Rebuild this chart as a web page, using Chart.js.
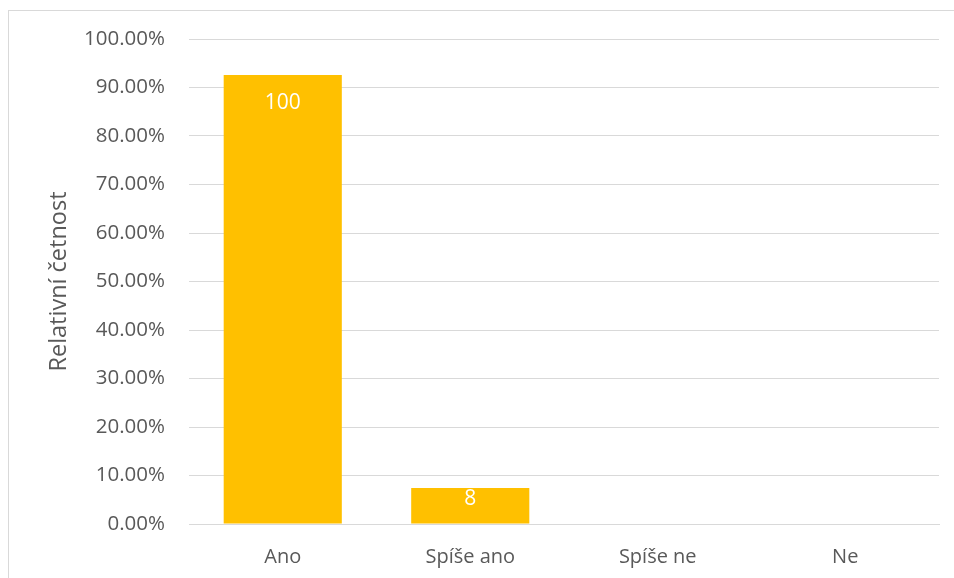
<!DOCTYPE html>
<html>
<head>
<meta charset="utf-8">
<script src="https://cdn.jsdelivr.net/npm/chart.js@4.4.1/dist/chart.umd.min.js"></script>
<style>
  html, body { margin: 0; padding: 0; background: #ffffff; overflow: hidden; }
  #frame { position: absolute; left: 8px; top: 10px; width: 980px; height: 600px; border: 1px solid #d9d9d9; box-sizing: border-box; }
  #wrap { position: absolute; left: 0; top: 0; width: 954px; height: 578px; }
</style>
</head>
<body>
<div id="frame"></div>
<div id="wrap"><canvas id="c" width="954" height="578"></canvas></div>
<script>
const categories = ["Ano", "Spíše ano", "Spíše ne", "Ne"];
const relativePercent = [92.59, 7.41, 0, 0];
const counts = [100, 8, 0, 0];
const axisTitle = "Relativní četnost";

const FONT = "'Open Sans', sans-serif";
const TEXT = "#595959";

const labelPlugin = {
  id: 'barLabels',
  afterDatasetsDraw(chart) {
    const ctx = chart.ctx;
    const meta = chart.getDatasetMeta(0);
    ctx.save();
    ctx.fillStyle = '#ffffff';
    ctx.font = "21px " + FONT;
    ctx.textAlign = 'center';
    ctx.textBaseline = 'middle';
    meta.data.forEach((bar, i) => {
      if (!counts[i]) return;
      const h = bar.base - bar.y;
      const off = Math.min(28, h * 0.32);
      ctx.fillText(String(counts[i]), bar.x, bar.y + off);
    });
    ctx.restore();
  }
};

new Chart(document.getElementById('c'), {
  type: 'bar',
  data: {
    labels: categories,
    datasets: [{
      data: relativePercent,
      backgroundColor: '#ffc000',
      borderWidth: 0,
      barPercentage: 0.63,
      categoryPercentage: 1.0
    }]
  },
  options: {
    responsive: false,
    animation: false,
    devicePixelRatio: 1,
    layout: { padding: { top: 39, right: 15, bottom: 0, left: 0 } },
    plugins: { legend: { display: false }, tooltip: { enabled: false } },
    scales: {
      x: {
        grid: { display: false, drawTicks: false },
        border: { display: true, color: '#d9d9d9', width: 1 },
        ticks: { color: TEXT, font: { family: FONT, size: 20 }, padding: 21 },
        afterFit(s) { s.height = 578 - 524; }
      },
      y: {
        min: 0, max: 100,
        grid: { color: '#d9d9d9', lineWidth: 1, drawTicks: false },
        border: { display: false },
        ticks: {
          stepSize: 10, color: TEXT, font: { family: FONT, size: 20.5 }, padding: 24,
          callback: v => v.toFixed(2) + '%'
        },
        title: {
          display: true, text: axisTitle, color: TEXT,
          font: { family: FONT, size: 23.5 }, padding: { top: 45, bottom: 0 }
        },
        afterFit(s) { s.width = 189; }
      }
    }
  },
  plugins: [labelPlugin]
});
</script>
</body>
</html>
